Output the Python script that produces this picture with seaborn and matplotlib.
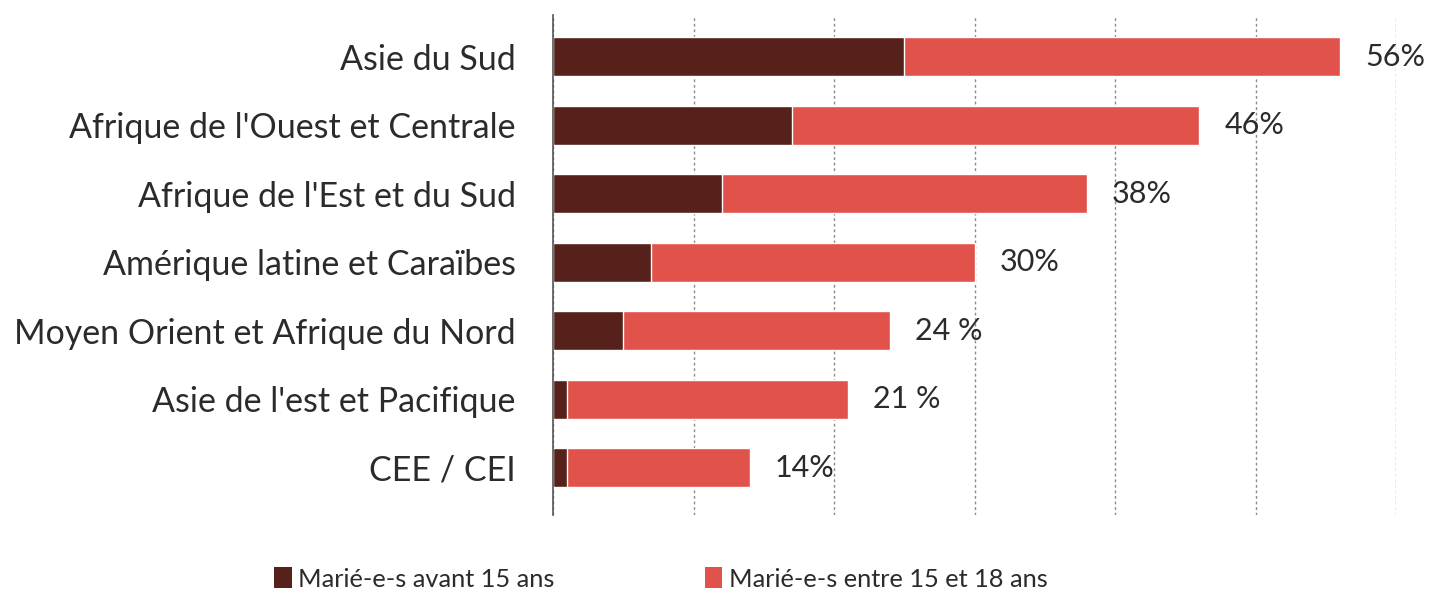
import matplotlib
matplotlib.use("Agg")
import matplotlib.pyplot as plt
import seaborn as sns
import pandas as pd
from matplotlib.patches import Patch

regions = [
    "Asie du Sud",
    "Afrique de l'Ouest et Centrale",
    "Afrique de l'Est et du Sud",
    "Amérique latine et Caraïbes",
    "Moyen Orient et Afrique du Nord",
    "Asie de l'est et Pacifique",
    "CEE / CEI",
]
before_15 = [25, 17, 12, 7, 5, 1, 1]
before_18 = [56, 46, 38, 30, 24, 21, 14]
value_labels = ["56%", "46%", "38%", "30%", "24 %", "21 %", "14%"]
legend_labels = ["Marié-e-s avant 15 ans", "Marié-e-s entre 15 et 18 ans"]

dark = "#55211a"
red = "#e0524a"
text_col = "#2b2b2b"

sns.set_theme(style="white")
plt.rcParams["font.family"] = ["Lato", "DejaVu Sans"]

df = pd.DataFrame({"region": regions, "before_15": before_15, "before_18": before_18})

fig = plt.figure(figsize=(14.29, 6), dpi=100)
ax = fig.add_axes([0.387, 0.142, 0.590, 0.833])

# total share married before 18, with the before-15 share drawn over it
sns.barplot(data=df, x="before_18", y="region", color=red, orient="h",
            width=0.57, saturation=1, ax=ax)
sns.barplot(data=df, x="before_15", y="region", color=dark, orient="h",
            width=0.57, saturation=1, ax=ax)

ax.set_xlim(0, 60)
ax.set_ylim(6.69, -0.61)
ax.set_xlabel("")
ax.set_ylabel("")
ax.set_xticks(range(0, 61, 10))
ax.set_xticklabels([])
ax.xaxis.grid(True, linestyle=(0, (2, 2)), color="#8a8a8a", linewidth=1)
ax.set_axisbelow(True)
ax.tick_params(axis="y", length=0, pad=27, labelsize=24.5, labelcolor=text_col)
ax.tick_params(axis="x", length=0)

for s in ["top", "right", "bottom"]:
    ax.spines[s].set_visible(False)
ax.spines["left"].set_color("#555555")
ax.spines["left"].set_linewidth(1.2)

for i, (tot, lab) in enumerate(zip(before_18, value_labels)):
    ax.annotate(lab, xy=(tot, i), xytext=(18, 0), textcoords="offset points",
                ha="left", va="center", fontsize=22, color=text_col)

handles = [Patch(facecolor=dark, edgecolor="none"), Patch(facecolor=red, edgecolor="none")]
fig.legend(handles, legend_labels, loc="center", bbox_to_anchor=(0.4625, 0.035),
           ncol=2, frameon=False, fontsize=18.3, handlelength=0.7, handleheight=0.9,
           handletextpad=0.25, columnspacing=5.9, labelcolor=text_col)

fig.savefig("out.png", dpi=100, facecolor="white")
